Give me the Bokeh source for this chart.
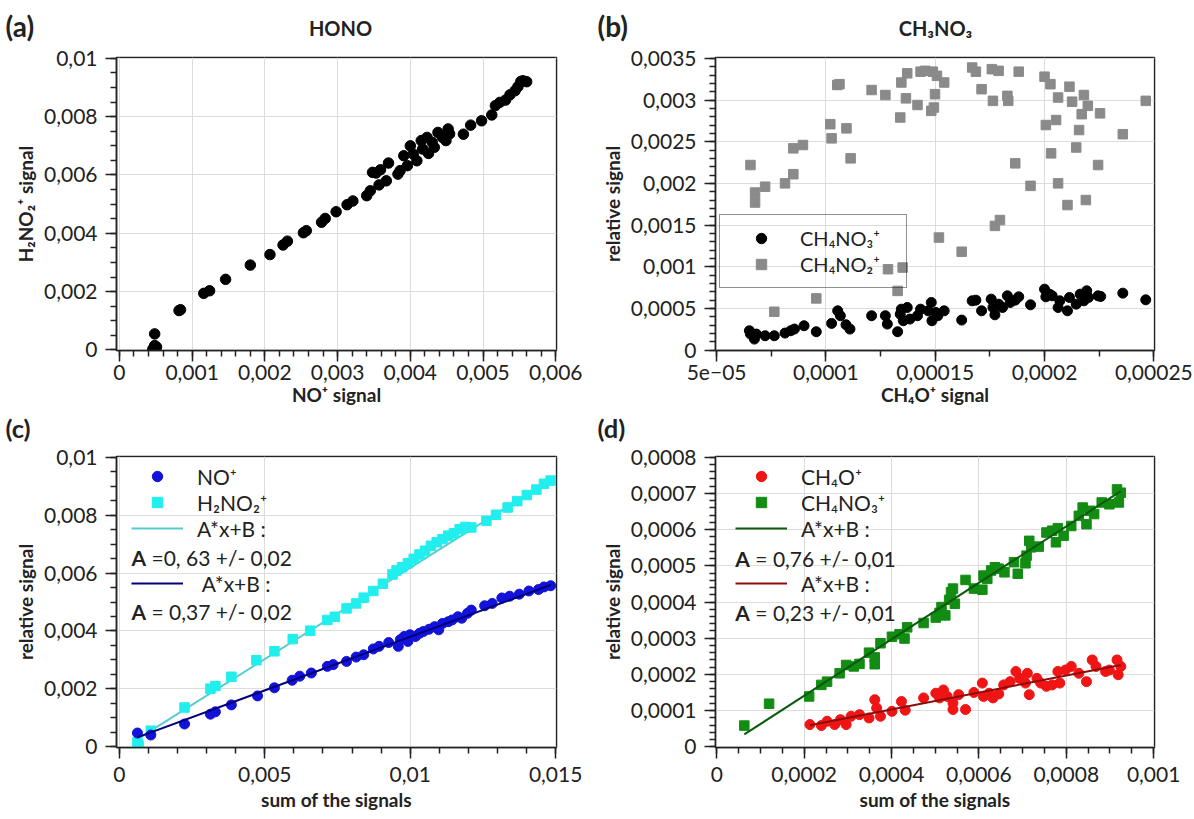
import numpy as np
from bokeh.plotting import figure
from bokeh.models import (FixedTicker, CustomJSTickFormatter, Legend, LegendItem,
                          Label, Range1d)
from bokeh.layouts import column, row
from bokeh.embed import file_html
from bokeh.resources import INLINE

FONT = "Lato"

# ---------------- data ----------------
# (a) HONO : NO+ signal vs H2NO2+ signal
a_x = [0.000485, 0.000485, 0.00051, 0.00046, 0.00082, 0.00084, 0.00116, 0.00124, 0.00146, 0.0018,
       0.00207, 0.00225, 0.00231, 0.00253, 0.00257, 0.00278, 0.00283, 0.00298, 0.00313, 0.00321,
       0.0034, 0.00345, 0.00348, 0.00353, 0.00359, 0.00357, 0.00367, 0.0037, 0.00383, 0.00386,
       0.00391, 0.00396, 0.004, 0.00404, 0.00409, 0.00415, 0.00417, 0.00423, 0.00425, 0.0043,
       0.00433, 0.00438, 0.00444, 0.00449, 0.00452, 0.00454, 0.00473, 0.00483, 0.00498, 0.00512,
       0.00517, 0.00523, 0.00531, 0.00537, 0.00544, 0.00548, 0.00552, 0.00555, 0.0056]
a_y = [0.00055, 0.00015, 0.0001, 0.00003, 0.00135, 0.00138, 0.00194, 0.00203, 0.00242, 0.00291,
       0.00327, 0.0036, 0.00373, 0.00402, 0.00409, 0.00438, 0.00451, 0.00474, 0.00498, 0.00511,
       0.00529, 0.00546, 0.00609, 0.00607, 0.00618, 0.00566, 0.0058, 0.00641, 0.00603, 0.00615,
       0.00666, 0.00632, 0.007, 0.00672, 0.00649, 0.00718, 0.00689, 0.00729, 0.00674, 0.00712,
       0.00695, 0.00746, 0.00729, 0.00718, 0.00758, 0.00741, 0.0074, 0.00771, 0.00786, 0.00806,
       0.00838, 0.00849, 0.00857, 0.00875, 0.00889, 0.00903, 0.00921, 0.00923, 0.0092]

# (b) CH3NO3 : CH4O+ signal vs relative signals
b_sq_x = [6.55e-5, 6.76e-5, 6.76e-5, 7.22e-5, 7.64e-5, 8.13e-5, 8.51e-5, 8.51e-5, 8.95e-5, 9.56e-5,
          1.02e-4, 1.026e-4, 1.052e-4, 1.062e-4, 1.094e-4, 1.113e-4, 1.209e-4, 1.272e-4, 1.284e-4, 1.328e-4,
          1.34e-4, 1.345e-4, 1.351e-4, 1.372e-4, 1.366e-4, 1.419e-4, 1.433e-4, 1.454e-4, 1.482e-4, 1.489e-4,
          1.494e-4, 1.499e-4, 1.508e-4, 1.541e-4, 1.517e-4, 1.621e-4, 1.669e-4, 1.686e-4, 1.712e-4, 1.759e-4,
          1.764e-4, 1.79e-4, 1.773e-4, 1.796e-4, 1.83e-4, 1.834e-4, 1.866e-4, 1.882e-4, 1.936e-4, 2.0e-4,
          2.006e-4, 2.027e-4, 2.03e-4, 2.053e-4, 2.062e-4, 2.062e-4, 2.105e-4, 2.114e-4, 2.126e-4, 2.145e-4,
          2.158e-4, 2.17e-4, 2.18e-4, 2.189e-4, 2.198e-4, 2.245e-4, 2.254e-4, 2.358e-4, 2.463e-4]
b_sq_y = [0.00222, 0.00189, 0.00177, 0.00196, 0.00046, 0.0020, 0.00211, 0.00242, 0.00246, 0.00062,
          0.00271, 0.00254, 0.00318, 0.00319, 0.00266, 0.0023, 0.00312, 0.00306, 0.00097, 0.00071,
          0.00279, 0.00321, 0.00099, 0.00332, 0.00302, 0.00294, 0.00334, 0.00335, 0.00287, 0.00334,
          0.00291, 0.00307, 0.00329, 0.00321, 0.00135, 0.00118, 0.00339, 0.00334, 0.00313, 0.00337,
          0.00299, 0.00335, 0.00149, 0.00156, 0.00305, 0.00299, 0.00224, 0.00334, 0.00197, 0.00328,
          0.0027, 0.00319, 0.00236, 0.00276, 0.00303, 0.0020, 0.00174, 0.00316, 0.00298, 0.00243,
          0.00264, 0.00283, 0.00306, 0.0018, 0.00293, 0.00222, 0.00284, 0.00259, 0.00299]
b_ci_x = [6.5e-5, 6.55e-5, 6.73e-5, 6.82e-5, 7.22e-5, 7.64e-5, 8.13e-5, 8.39e-5, 8.56e-5, 9.0e-5,
          9.56e-5, 1.026e-4, 1.054e-4, 1.066e-4, 1.092e-4, 1.11e-4, 1.209e-4, 1.272e-4, 1.281e-4, 1.328e-4,
          1.34e-4, 1.345e-4, 1.354e-4, 1.372e-4, 1.384e-4, 1.419e-4, 1.433e-4, 1.468e-4, 1.482e-4, 1.485e-4,
          1.503e-4, 1.512e-4, 1.541e-4, 1.621e-4, 1.669e-4, 1.686e-4, 1.712e-4, 1.756e-4, 1.764e-4, 1.773e-4,
          1.79e-4, 1.808e-4, 1.83e-4, 1.843e-4, 1.866e-4, 1.882e-4, 1.936e-4, 2.0e-4, 2.006e-4, 2.023e-4,
          2.035e-4, 2.062e-4, 2.07e-4, 2.105e-4, 2.114e-4, 2.145e-4, 2.163e-4, 2.18e-4, 2.193e-4, 2.201e-4,
          2.245e-4, 2.257e-4, 2.358e-4, 2.463e-4]
b_ci_y = [0.000232, 0.000192, 0.000132, 0.000192, 0.000172, 0.000172, 0.000204, 0.000232, 0.000252, 0.000292,
          0.00022, 0.00032, 0.000471, 0.000412, 0.000304, 0.000252, 0.000412, 0.000412, 0.000312, 0.00022,
          0.000431, 0.000491, 0.000352, 0.000511, 0.000372, 0.000412, 0.000491, 0.000471, 0.000571, 0.000352,
          0.000451, 0.000412, 0.000471, 0.00036, 0.000591, 0.000599, 0.000471, 0.000611, 0.000511, 0.000423,
          0.000551, 0.000511, 0.000651, 0.000571, 0.000599, 0.000639, 0.000543, 0.000731, 0.000639, 0.000671,
          0.000651, 0.000511, 0.000591, 0.000471, 0.000631, 0.000551, 0.000671, 0.000591, 0.000711, 0.000631,
          0.000651, 0.000643, 0.000683, 0.000603]

# (c) sum of the signals vs relative signal (NO+, H2NO2+)
c_sq_x = [0.00062, 0.00066, 0.00108, 0.00224, 0.00313, 0.0033, 0.00385, 0.00471, 0.00533, 0.00596,
          0.00656, 0.00715, 0.00741, 0.00781, 0.00814, 0.0084, 0.00873, 0.00906, 0.00939, 0.00953,
          0.00972, 0.00992, 0.01012, 0.01032, 0.01051, 0.01071, 0.01091, 0.01111, 0.01131, 0.0115,
          0.0117, 0.0119, 0.0121, 0.01262, 0.01295, 0.01335, 0.01368, 0.01401, 0.01434, 0.0146,
          0.01483]
c_sq_y = [0.00016, 0.00005, 0.00056, 0.00136, 0.00201, 0.0021, 0.00242, 0.00299, 0.0033, 0.00372,
          0.00401, 0.00438, 0.00449, 0.00478, 0.00495, 0.00515, 0.00538, 0.00563, 0.00595, 0.00609,
          0.0062, 0.00634, 0.00649, 0.00664, 0.00677, 0.00694, 0.00706, 0.00717, 0.00729, 0.00737,
          0.00751, 0.00759, 0.00757, 0.0078, 0.00801, 0.00826, 0.00848, 0.00869, 0.00888, 0.00908,
          0.00919]
c_ci_x = [0.00062, 0.00108, 0.00224, 0.00313, 0.0033, 0.00385, 0.00475, 0.00533, 0.00594, 0.0062,
          0.0066, 0.00715, 0.00735, 0.00781, 0.00814, 0.0084, 0.00873, 0.00893, 0.00926, 0.00959,
          0.00966, 0.00979, 0.00992, 0.00999, 0.01018, 0.01032, 0.01045, 0.01065, 0.01084, 0.01098,
          0.01111, 0.01131, 0.01144, 0.01164, 0.01177, 0.01197, 0.0121, 0.01256, 0.01282, 0.01315,
          0.01342, 0.01375, 0.01408, 0.01441, 0.0146, 0.01483]
c_ci_y = [0.00048, 0.00041, 0.00079, 0.00113, 0.00121, 0.00145, 0.00176, 0.00204, 0.0023, 0.00244,
          0.00255, 0.00278, 0.00284, 0.00295, 0.0031, 0.00318, 0.00338, 0.00347, 0.0036, 0.00347,
          0.0037, 0.00381, 0.00364, 0.00387, 0.00381, 0.00392, 0.00398, 0.00406, 0.00415, 0.00404,
          0.00426, 0.00432, 0.00438, 0.00449, 0.00444, 0.00461, 0.00472, 0.00487, 0.00495, 0.00514,
          0.0052, 0.00527, 0.00538, 0.00543, 0.00552, 0.00556]
c_fit_A = [0.63, 0.37]          # H2NO2+, NO+
c_fit_B = [-0.00012, 0.0001]

# (d) sum of the signals vs relative signal (CH4O+, CH4NO3+)
d_sq_x = [0.0000629, 0.0001197, 0.0002114, 0.0002393, 0.0002524, 0.0002812, 0.0002961, 0.0003135, 0.0003266, 0.0003485,
          0.0003616, 0.0003616, 0.0003747, 0.0004009, 0.0004183, 0.0004297, 0.0004358, 0.0004734, 0.0005013, 0.00051,
          0.0005144, 0.0005231, 0.0005319, 0.0005362, 0.0005406, 0.000545, 0.0005694, 0.0005886, 0.0006079, 0.0006105,
          0.0006192, 0.000628, 0.0006367, 0.0006454, 0.0006585, 0.0006803, 0.000689, 0.0007066, 0.0007092, 0.0007153,
          0.0007197, 0.0007371, 0.0007546, 0.0007677, 0.0007764, 0.0007808, 0.0007939, 0.0008114, 0.0008288, 0.0008376,
          0.0008463, 0.000855, 0.0008638, 0.0008812, 0.0008987, 0.0009162, 0.0009205, 0.0009249]
d_sq_y = [0.0000586, 0.000119, 0.000139, 0.000171, 0.00018, 0.000203, 0.000226, 0.000222, 0.000229, 0.00026,
          0.000247, 0.000228, 0.000286, 0.000304, 0.000311, 0.000299, 0.00033, 0.000342, 0.000357, 0.00037,
          0.000386, 0.000363, 0.000406, 0.000427, 0.000437, 0.000395, 0.000461, 0.000437, 0.000434, 0.000473,
          0.000464, 0.000487, 0.000496, 0.000492, 0.000482, 0.00051, 0.000478, 0.000507, 0.000528, 0.000569,
          0.000551, 0.000553, 0.000592, 0.000597, 0.000565, 0.000604, 0.000583, 0.00061, 0.000638, 0.000661,
          0.000615, 0.000652, 0.000643, 0.000675, 0.00067, 0.000711, 0.000675, 0.000702]
d_ci_x = [0.0002131, 0.0002393, 0.0002524, 0.0002699, 0.000283, 0.0002961, 0.0003074, 0.0003266, 0.0003485, 0.0003616,
          0.0003659, 0.0003747, 0.0004009, 0.0004227, 0.0004314, 0.0004734, 0.0005013, 0.00051, 0.0005188, 0.0005275,
          0.0005406, 0.0005406, 0.0005537, 0.0005694, 0.0005886, 0.0006079, 0.0006105, 0.0006236, 0.0006323, 0.0006454,
          0.0006568, 0.0006716, 0.0006847, 0.0006934, 0.0007066, 0.0007109, 0.0007153, 0.0007328, 0.0007415, 0.0007546,
          0.0007677, 0.0007852, 0.0007808, 0.0007983, 0.0008114, 0.0008288, 0.0008463, 0.0008594, 0.0008681, 0.00089,
          0.0008987, 0.0009162, 0.0009188, 0.0009249]
d_ci_y = [0.0000613, 0.0000586, 0.0000705, 0.0000613, 0.000075, 0.0000613, 0.0000842, 0.0000888, 0.0000796, 0.00013,
          0.000107, 0.0000842, 0.0000979, 0.000125, 0.000101, 0.000135, 0.000148, 0.000135, 0.000157, 0.000139,
          0.000121, 0.000103, 0.000144, 0.000103, 0.00015, 0.000176, 0.000139, 0.000148, 0.000135, 0.000146,
          0.000171, 0.00018, 0.000208, 0.000189, 0.000176, 0.000203, 0.000144, 0.000189, 0.000176, 0.000167,
          0.000171, 0.000176, 0.000208, 0.000212, 0.000222, 0.000203, 0.00018, 0.00024, 0.000222, 0.000208,
          0.000212, 0.00024, 0.000199, 0.000222]
d_fit_A = [0.78, 0.234]         # CH4NO3+, CH4O+
d_fit_B = [-0.000015, 0.0000095]

# tick values and labels
a_xt = [0, 0.001, 0.002, 0.003, 0.004, 0.005, 0.006]
a_xl = ["0", "0,001", "0,002", "0,003", "0,004", "0,005", "0,006"]
a_yt = [0, 0.002, 0.004, 0.006, 0.008, 0.01]
a_yl = ["0", "0,002", "0,004", "0,006", "0,008", "0,01"]
b_xt = [5e-05, 0.0001, 0.00015, 0.0002, 0.00025]
b_xl = ["5e\u221205", "0,0001", "0,00015", "0,0002", "0,00025"]
b_yt = [0, 0.0005, 0.001, 0.0015, 0.002, 0.0025, 0.003, 0.0035]
b_yl = ["0", "0,0005", "0,001", "0,0015", "0,002", "0,0025", "0,003", "0,0035"]
c_xt = [0, 0.005, 0.01, 0.015]
c_xl = ["0", "0,005", "0,01", "0,015"]
c_yt = [0, 0.002, 0.004, 0.006, 0.008, 0.01]
c_yl = ["0", "0,002", "0,004", "0,006", "0,008", "0,01"]
d_xt = [0, 0.0002, 0.0004, 0.0006, 0.0008, 0.001]
d_xl = ["0", "0,0002", "0,0004", "0,0006", "0,0008", "0,001"]
d_yt = [0, 0.0001, 0.0002, 0.0003, 0.0004, 0.0005, 0.0006, 0.0007, 0.0008]
d_yl = ["0", "0,0001", "0,0002", "0,0003", "0,0004", "0,0005", "0,0006", "0,0007", "0,0008"]

# ---------------- layout geometry (page pixels, origin top-left) ----------------
TOP_H = 42      # strip holding "(a)" / "HONO"
MID_H = 31      # strip holding "(c)" / "(d)"
ROW1_H = 370
ROW2_H = 376
G = {
    "a": dict(ox=0, oy=TOP_H, w=597, h=ROW1_H, fl=116, fw=440, ft=15, fh=293, fb=62,
              xr=(-0.00004, 0.00601), yr=(-0.00002, 0.01003)),
    "b": dict(ox=597, oy=TOP_H, w=597, h=ROW1_H, fl=115, fw=442, ft=15, fh=293, fb=62,
              xr=(4.95e-05, 0.0002503), yr=(-0.000005, 0.00351)),
    "c": dict(ox=0, oy=TOP_H + ROW1_H + MID_H, w=597, h=ROW2_H, fl=116, fw=440, ft=13, fh=291, fb=72,
              xr=(-0.0001, 0.01503), yr=(-0.00002, 0.01002)),
    "d": dict(ox=597, oy=TOP_H + ROW1_H + MID_H, w=597, h=ROW2_H, fl=115, fw=442, ft=13, fh=291, fb=72,
              xr=(-0.000003, 0.001002), yr=(-0.000002, 0.000802)),
}


def img2data(g, ix, iy):
    fx = ix - g["ox"] - g["fl"]
    fy = iy - g["oy"] - g["ft"]
    x0, x1 = g["xr"]
    y0, y1 = g["yr"]
    return x0 + fx / g["fw"] * (x1 - x0), y1 - fy / g["fh"] * (y1 - y0)


def frame_pos(g, ix_left, iy_bottom):
    return (ix_left - g["ox"] - g["fl"], g["oy"] + g["ft"] + g["fh"] - iy_bottom)


FMT_CODE = ("var i = vals.findIndex(function(v){return Math.abs(v - tick) < 1e-10;});"
            "return i >= 0 ? labs[i] : '';")


def minor_list(lo, hi, step):
    return [float(v) for v in np.round(np.arange(lo, hi + step / 2, step), 12)]


def make_fig(g, xt, xl, xminor, yt, yl, yminor, xlabel, ylabel, xstand, xlabstand):
    p = figure(width=g["w"], height=g["h"], x_range=Range1d(*g["xr"]), y_range=Range1d(*g["yr"]),
               output_backend="svg", toolbar_location=None, title=None,
               min_border_left=g["fl"], min_border_right=g["w"] - g["fl"] - g["fw"],
               min_border_top=g["ft"], min_border_bottom=g["fb"])
    p.outline_line_color = "#222222"
    p.outline_line_width = 1.5
    p.background_fill_color = "white"
    p.border_fill_color = "white"
    for ax, ticks, labs, minor, lab in ((p.xaxis[0], xt, xl, xminor, xlabel),
                                         (p.yaxis[0], yt, yl, yminor, ylabel)):
        ax.ticker = FixedTicker(ticks=ticks, minor_ticks=minor)
        ax.formatter = CustomJSTickFormatter(args=dict(vals=ticks, labs=labs), code=FMT_CODE)
        ax.major_tick_out = 11
        ax.major_tick_in = 0
        ax.minor_tick_out = 6
        ax.minor_tick_in = 0
        ax.axis_line_color = "#222222"
        ax.axis_line_width = 1.5
        ax.major_tick_line_color = "#222222"
        ax.major_tick_line_width = 1.5
        ax.minor_tick_line_color = "#222222"
        ax.minor_tick_line_width = 1.5
        ax.major_label_text_font = FONT
        ax.major_label_text_font_size = "21px"
        ax.major_label_text_color = "#222222"
        ax.axis_label = lab
        ax.axis_label_text_font = FONT
        ax.axis_label_text_font_style = "bold"
        ax.axis_label_text_font_size = "19px"
        ax.axis_label_text_color = "#222222"
    p.xaxis[0].major_label_standoff = xstand
    p.xaxis[0].axis_label_standoff = xlabstand
    p.yaxis[0].major_label_standoff = 8
    p.yaxis[0].axis_label_standoff = 4
    p.xgrid.ticker = FixedTicker(ticks=xt)
    p.ygrid.ticker = FixedTicker(ticks=yt)
    for gr in (p.xgrid[0], p.ygrid[0]):
        gr.grid_line_color = "#dcdcdc"
        gr.grid_line_width = 1
    return p


def text_fig(w, h):
    t = figure(width=w, height=h, x_range=Range1d(0, w), y_range=Range1d(h, 0),
               x_axis_type=None, y_axis_type=None, output_backend="svg",
               toolbar_location=None, title=None, min_border=0)
    t.outline_line_color = None
    t.background_fill_color = "white"
    t.border_fill_color = "white"
    return t


def strip_text(t, text, x, y, size, align="left"):
    t.add_layout(Label(x=x, y=y, text=text, text_font=FONT, text_font_size=size,
                       text_font_style="bold", text_align=align, text_baseline="middle",
                       text_color="#222222"))


def add_text(p, g, text, ix, iy, size, style="normal", x_offset=0):
    x, y = img2data(g, ix, iy)
    p.add_layout(Label(x=x, y=y, text=text, text_font=FONT, text_font_size=size,
                       text_font_style=style, text_align="left", text_baseline="middle",
                       text_color="#222222", x_offset=x_offset))


# ---------------- header strips ----------------
ta = text_fig(597, TOP_H)
strip_text(ta, "(a)", 5, 25, "28px")
strip_text(ta, "HONO", 340, 27, "20px", "center")
tb = text_fig(597, TOP_H)
strip_text(tb, "(b)", 0, 25, "28px")
strip_text(tb, "CH\u2083NO\u2083", 935 - 597, 27, "20px", "center")
tc = text_fig(597, MID_H)
strip_text(tc, "(c)", 5, MID_H / 2, "25.5px")
td = text_fig(597, MID_H)
strip_text(td, "(d)", 0, MID_H / 2, "25.5px")

# ---------------- (a) ----------------
ga = G["a"]
pa = make_fig(ga, a_xt, a_xl, minor_list(0, 0.006, 0.0002), a_yt, a_yl, minor_list(0, 0.01, 0.0005),
              "NO\u207a signal", "H\u2082NO\u2082\u207a signal", 3, 0)
pa.scatter(a_x, a_y, marker="circle", size=10.5, color="black")

# ---------------- (b) ----------------
gb = G["b"]
pb = make_fig(gb, b_xt, b_xl, minor_list(5e-05, 0.00025, 2.5e-05), b_yt, b_yl, minor_list(0, 0.0035, 0.0001),
              "CH\u2084O\u207a signal", "relative signal", 3, 0)
rb1 = pb.scatter(b_ci_x, b_ci_y, marker="circle", size=10, color="black")
rb2 = pb.scatter(b_sq_x, b_sq_y, marker="square", size=9.5, color="#8a8a8a")
leg_b = Legend(items=[LegendItem(label="CH\u2084NO\u2083\u207a", renderers=[rb1]),
                      LegendItem(label="CH\u2084NO\u2082\u207a", renderers=[rb2])],
               location=frame_pos(gb, 716, 288), margin=0, padding=10, spacing=0,
               glyph_width=62, glyph_height=26, label_height=26, label_width=96, label_standoff=8,
               label_text_font=FONT, label_text_font_size="20px", label_text_color="#222222",
               border_line_color="#222222", border_line_width=1.5, background_fill_alpha=0)
pb.add_layout(leg_b)

# ---------------- (c) ----------------
gc = G["c"]
pc = make_fig(gc, c_xt, c_xl, minor_list(0, 0.015, 0.001), c_yt, c_yl, minor_list(0, 0.01, 0.0005),
              "sum of the signals", "relative signal", 8, 3)
xs_h = [min(c_sq_x), max(c_sq_x)]
xs_n = [min(c_ci_x), max(c_ci_x)]
rc_lh = pc.line(xs_h, [c_fit_A[0] * v + c_fit_B[0] for v in xs_h], line_color="#55cccc", line_width=2)
rc_sq = pc.scatter(c_sq_x, c_sq_y, marker="square", size=9.5, color="#22eeee")
rc_ci = pc.scatter(c_ci_x, c_ci_y, marker="circle", size=10, color="#1212d8")
rc_ln = pc.line(xs_n, [c_fit_A[1] * v + c_fit_B[1] for v in xs_n], line_color="#000078", line_width=2)
common_leg = dict(margin=0, padding=0, spacing=0, glyph_width=52, glyph_height=26, label_height=26,
                  label_standoff=14, label_text_font=FONT, label_text_font_size="21px",
                  label_text_color="#222222", border_line_alpha=0, background_fill_alpha=0)
pc.add_layout(Legend(items=[LegendItem(label="NO\u207a", renderers=[rc_ci]),
                            LegendItem(label="H\u2082NO\u2082\u207a", renderers=[rc_sq]),
                            LegendItem(label="A*x+B :", renderers=[rc_lh])],
                     location=frame_pos(gc, 131, 541), **common_leg))
pc.add_layout(Legend(items=[LegendItem(label=" A*x+B :", renderers=[rc_ln])],
                     location=frame_pos(gc, 131, 596), **common_leg))
add_text(pc, gc, "A", 131, 557, "21px", "bold")
add_text(pc, gc, "=0, 63 +/- 0,02", 131, 557, "21px", x_offset=20)
add_text(pc, gc, "A", 131, 611, "21px", "bold")
add_text(pc, gc, "= 0,37 +/- 0,02", 131, 611, "21px", x_offset=20)

# ---------------- (d) ----------------
gd = G["d"]
pd_ = make_fig(gd, d_xt, d_xl, minor_list(0, 0.001, 0.00005), d_yt, d_yl, minor_list(0, 0.0008, 0.00002),
               "sum of the signals", "relative signal", 8, 3)
xs_g = [min(d_sq_x), max(d_sq_x)]
xs_r = [min(d_ci_x), max(d_ci_x)]
rd_sq = pd_.scatter(d_sq_x, d_sq_y, marker="square", size=9.5, color="#128c12")
rd_lg = pd_.line(xs_g, [d_fit_A[0] * v + d_fit_B[0] for v in xs_g], line_color="#0b5a0b", line_width=2)
rd_ci = pd_.scatter(d_ci_x, d_ci_y, marker="circle", size=10, color="#f01414")
rd_lr = pd_.line(xs_r, [d_fit_A[1] * v + d_fit_B[1] for v in xs_r], line_color="#8c0c0c", line_width=2)
pd_.add_layout(Legend(items=[LegendItem(label="CH\u2084O\u207a", renderers=[rd_ci]),
                             LegendItem(label="CH\u2084NO\u2083\u207a", renderers=[rd_sq]),
                             LegendItem(label="A*x+B :", renderers=[rd_lg])],
                      location=frame_pos(gd, 732, 541), **common_leg))
pd_.add_layout(Legend(items=[LegendItem(label="A*x+B :", renderers=[rd_lr])],
                      location=frame_pos(gd, 732, 596), **common_leg))
add_text(pd_, gd, "A", 732, 558, "21px", "bold")
add_text(pd_, gd, "= 0,76 +/- 0,01", 732, 558, "21px", x_offset=20)
add_text(pd_, gd, "A", 732, 612, "21px", "bold")
add_text(pd_, gd, "= 0,23 +/- 0,01", 732, 612, "21px", x_offset=20)

layout = column(row(ta, tb), row(pa, pb), row(tc, td), row(pc, pd_))
open("out.html", "w").write(file_html(layout, INLINE))
